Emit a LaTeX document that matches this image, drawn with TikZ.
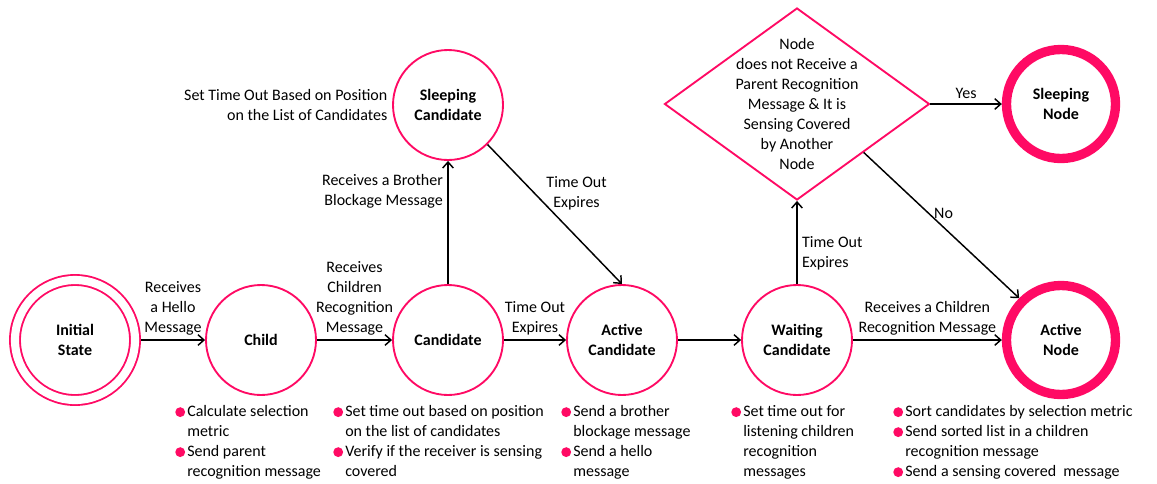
\documentclass[tikz,border=0pt]{standalone}
\usepackage{fontspec}
\setmainfont{Carlito}
\usetikzlibrary{arrows.meta,shapes.geometric}
\definecolor{pk}{RGB}{255,10,100}
\newcommand\pdot{\makebox[9pt][l]{\raisebox{-0.6pt}{\tikz\fill[pk] (0,0) circle (3.7pt);}}}
\begin{document}
\begin{tikzpicture}[x=0.75pt,y=-0.75pt,
  font=\fontsize{12}{15}\selectfont,
  state/.style={circle,draw=pk,line width=1.4pt,minimum size=82.5pt,inner sep=0pt,align=center,font=\fontsize{12}{15}\selectfont\bfseries},
  initstate/.style={state,double=white,double distance=6.1pt,minimum size=90pt,outer sep=4.4pt},
  final/.style={state,line width=7pt,minimum size=81.75pt},
  decision/.style={diamond,draw=pk,line width=1.4pt,minimum width=198.75pt,minimum height=144pt,inner sep=0pt},
  arr/.style={-{Straight Barb[length=4.5pt,width=8pt]},line width=1.1pt},
  lbl/.style={align=center,inner sep=3pt},
  notes/.style={anchor=north west,inner sep=0pt,align=left}]
\useasboundingbox (0,0) rectangle (1157,483);

% states
\node[initstate] (init) at (75,340) {Initial\\State};
\node[state] (child) at (261,340) {Child};
\node[state] (cand) at (448,340) {Candidate};
\node[state] (ac) at (622,340) {Active\\Candidate};
\node[state] (wc) at (797,340) {Waiting\\Candidate};
\node[final] (an) at (1061,340) {Active\\Node};
\node[state] (sc) at (448,105) {Sleeping\\Candidate};
\node[decision] (dia) at (797,104) {};
\node[align=center] (dtext) at (dia.center) {Node\\does not Receive a\\Parent Recognition\\Message \& It is\\Sensing Covered\\by Another\\Node};
\node[final] (sn) at (1061,104) {Sleeping\\Node};

\node[anchor=east,align=right] (sclbl) at (sc.west) {Set Time Out Based on Position\\on the List of Candidates};

% connectors
\draw[arr] (init) -- node[lbl,above]{Receives\\a Hello\\Message} (child);
\draw[arr] (child) -- node[lbl,above]{Receives\\Children\\Recognition\\Message} (cand);
\draw[arr] (cand) -- node[lbl,above]{Time Out\\Expires} (ac);
\draw[arr] (ac) -- (wc);
\draw[arr] (wc) -- node[lbl,above]{Receives a Children\\Recognition Message} (an);
\draw[arr] (cand) -- node[pos=0.75,left,align=right]{Receives a Brother\\Blockage Message} (sc);
\draw[arr] (sc.south east) -- node[pos=0.35,anchor=west,xshift=5pt,align=center]{Time Out\\Expires} (ac.north);
\draw[arr] (wc) -- node[pos=0.37,right,align=left]{Time Out\\Expires} (dia.south);
\draw[arr] (dia.east) -- node[above]{Yes} (sn);
\draw[arr] (dia.south east) -- node[pos=0.42,right]{No} (an.north west);

% notes
\node[notes] (n1) at (175,402) {\begin{tabular}{@{}l@{}l@{}}\pdot&Calculate selection\\&metric\\\pdot&Send parent\\&recognition message\end{tabular}};
\node[notes] (n2) at (333,402) {\begin{tabular}{@{}l@{}l@{}}\pdot&Set time out based on position\\&on the list of candidates\\\pdot&Verify if the receiver is sensing\\&covered\end{tabular}};
\node[notes] (n3) at (561,402) {\begin{tabular}{@{}l@{}l@{}}\pdot&Send a brother\\&blockage message\\\pdot&Send a hello\\&message\end{tabular}};
\node[notes] (n4) at (731,402) {\begin{tabular}{@{}l@{}l@{}}\pdot&Set time out for\\&listening children\\&recognition\\&messages\end{tabular}};
\node[notes] (n5) at (893,402) {\begin{tabular}{@{}l@{}l@{}}\pdot&Sort candidates by selection metric\\\pdot&Send sorted list in a children\\&recognition message\\\pdot&Send a sensing covered\ \ message\end{tabular}};
\end{tikzpicture}
\end{document}
